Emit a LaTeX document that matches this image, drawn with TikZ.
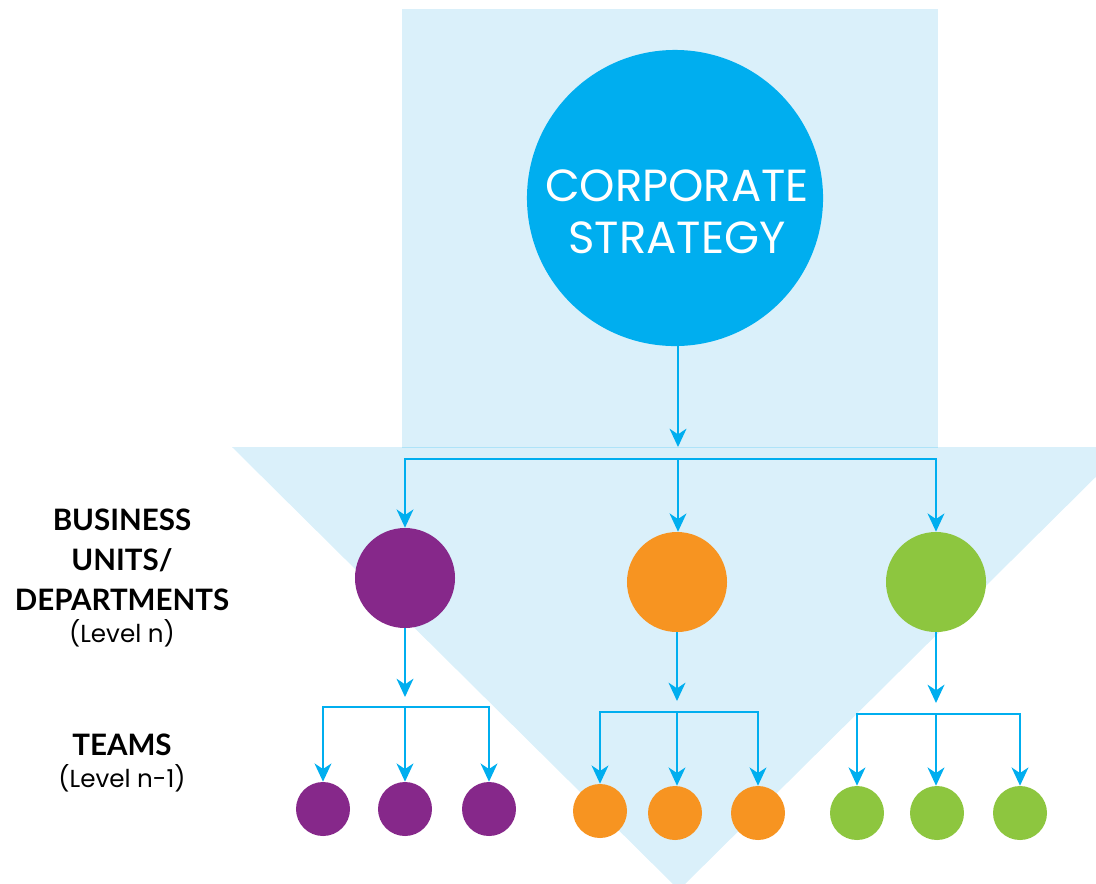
\documentclass[tikz,border=0pt]{standalone}
\usepackage{fontspec}
\setmainfont{Poppins}
\newfontfamily\labelfont{Lato}
\usetikzlibrary{arrows.meta}
\definecolor{bgblue}{HTML}{DAF0FA}
\definecolor{cyanb}{HTML}{00AEEF}
\definecolor{purp}{HTML}{86288A}
\definecolor{orng}{HTML}{F79421}
\definecolor{grn}{HTML}{8DC63F}
\tikzset{
  conn/.style={draw=cyanb, line width=1.5pt},
  arr/.style={conn, -{Stealth[length=13pt, width=12pt, inset=4pt]}},
  big/.style={circle, fill=cyanb, minimum size=7.4cm, inner sep=0pt},
  bigtext/.style={text=white, font=\fontsize{32}{37}\selectfont, align=center, inner sep=0pt},
  mid/.style={circle, minimum size=2.5cm, inner sep=0pt},
  small/.style={circle, minimum size=1.35cm, inner sep=0pt},
  lvl/.style={align=center, font=\labelfont\bfseries\fontsize{21}{28.5}\selectfont},
  sub/.style={align=center, font=\fontsize{17.5}{20}\selectfont},
}
\begin{document}
\begin{tikzpicture}[x=0.025cm, y=-0.025cm]
\useasboundingbox (0,0) rectangle (1096,883);
\begin{scope}
\clip (0,0) rectangle (1096,883);
\fill[bgblue] (402,9) rectangle (938,447);
\fill[bgblue] (232,447) -- (1126,447) -- (679,890) -- cycle;
\draw[cyanb!20!bgblue, line width=0.6pt] (402,447) -- (938,447);
\end{scope}

\node[big] (cs) at (675,198) {};
\node[bigtext] (cst) at (677,212) {CORPORATE\\STRATEGY};

\node[mid, fill=purp] (bu1) at (405,578) {};
\node[mid, fill=orng] (bu2) at (677,582) {};
\node[mid, fill=grn]  (bu3) at (936,582) {};

\node[small, fill=purp] (t11) at (323,809) {};
\node[small, fill=purp] (t12) at (405,809) {};
\node[small, fill=purp] (t13) at (489,809) {};
\node[small, fill=orng] (t21) at (600,811) {};
\node[small, fill=orng] (t22) at (675,813) {};
\node[small, fill=orng] (t23) at (758,813) {};
\node[small, fill=grn] (t31) at (857,813) {};
\node[small, fill=grn] (t32) at (937,813) {};
\node[small, fill=grn] (t33) at (1020,813) {};

% top level connectors
\coordinate (a0) at (678,447);
\coordinate (j0) at (678,459);
\draw[arr] (cs.south -| a0) -- (a0);
\draw[conn] (405,459) -- (937,459);
\draw[arr] (j0) -| (bu1.north);
\draw[arr] (j0) -- (bu2.north -| j0);
\draw[arr] (j0) -| (bu3.north);

% purple
\coordinate (a1) at (405,697);
\coordinate (j1) at (405,707);
\draw[arr] (bu1.south) -- (a1);
\draw[arr] (j1) -| (t11.north);
\draw[arr] (j1) -- (t12.north);
\draw[arr] (j1) -| (t13.north);

% orange
\coordinate (a2) at (677,701);
\coordinate (j2) at (677,712);
\draw[arr] (bu2.south) -- (a2);
\draw[arr] (j2) -| (t21.north);
\draw[arr] (j2) -- (t22.north -| j2);
\draw[arr] (j2) -| (t23.north);

% green
\coordinate (a3) at (936,703);
\coordinate (j3) at (936,714);
\draw[arr] (bu3.south) -- (a3);
\draw[arr] (j3) -| (t31.north);
\draw[arr] (j3) -- (t32.north -| j3);
\draw[arr] (j3) -| (t33.north);

% labels
\node[lvl] (l1) at (122,560) {BUSINESS\\UNITS/\\DEPARTMENTS};
\node[sub] (l1s) at (122,633) {(Level n)};
\node[lvl] (l2) at (122,745) {TEAMS};
\node[sub] (l2s) at (122,778) {(Level n-1)};
\end{tikzpicture}
\end{document}
